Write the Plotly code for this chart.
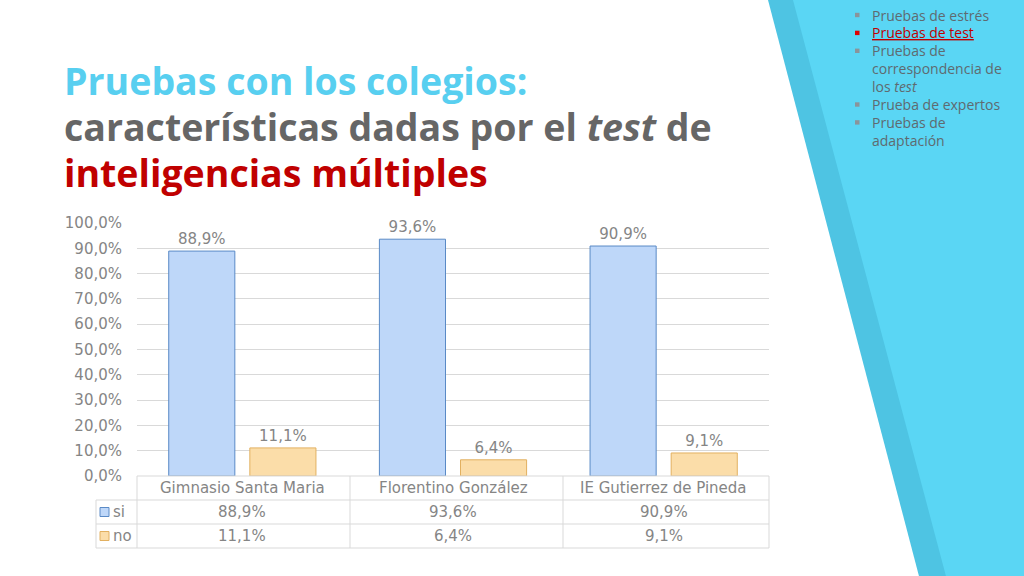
import plotly.graph_objects as go

# chart data
colegios = ["Gimnasio Santa Maria", "Florentino González", "IE Gutierrez de Pineda"]
si_vals = [0.889, 0.936, 0.909]
no_vals = [0.111, 0.064, 0.091]
series_names = ["si", "no"]
y_ticks = [0, 0.1, 0.2, 0.3, 0.4, 0.5, 0.6, 0.7, 0.8, 0.9, 1.0]

bullets = ["Pruebas de estrés", "Pruebas de test", "Pruebas de", "correspondencia de",
           "los <i>test</i>", "Prueba de expertos", "Pruebas de", "adaptación"]
bullet_marks = [True, True, True, False, False, True, True, False]

GRID = "#d9d9d9"
TXT = "#858585"
FONT = "DejaVu Sans"
SI_FILL, SI_LINE = "#bed7f9", "#5a8ac6"
NO_FILL, NO_LINE = "#fbdda9", "#e2b060"

# plot area in pixels
L, R, T, B = 137, 769, 223, 476


def px(x):
    return (x - L) / (R - L)


def py(y):
    return (B - y) / (B - T)


def pct(v):
    return f"{v * 100:.1f}".replace(".", ",") + "%"


fig = go.Figure()
fig.add_trace(go.Bar(x=colegios, y=si_vals, name=series_names[0],
                     marker=dict(color=SI_FILL, line=dict(color=SI_LINE, width=1)),
                     texttemplate="%{y:.1%}", textposition="outside",
                     textfont=dict(color=TXT, size=15, family=FONT),
                     cliponaxis=False))
fig.add_trace(go.Bar(x=colegios, y=no_vals, name=series_names[1],
                     marker=dict(color=NO_FILL, line=dict(color=NO_LINE, width=1)),
                     texttemplate="%{y:.1%}", textposition="outside",
                     textfont=dict(color=TXT, size=15, family=FONT),
                     cliponaxis=False))

shapes = []
# background decoration on the right
shapes.append(dict(type="path", xref="paper", yref="paper", layer="below",
                   path=f"M {px(768)} {py(0)} L {px(1030)} {py(0)} L {px(1030)} {py(580)} L {px(920)} {py(580)} Z",
                   fillcolor="#4ec4e3", line=dict(width=0)))
shapes.append(dict(type="path", xref="paper", yref="paper", layer="below",
                   path=f"M {px(793)} {py(0)} L {px(1030)} {py(0)} L {px(1030)} {py(580)} L {px(947)} {py(580)} Z",
                   fillcolor="#5ad6f4", line=dict(width=0)))

# data table lines
for y, x0 in [(476, 137), (500, 96), (524, 96), (548, 96)]:
    shapes.append(dict(type="line", xref="paper", yref="paper", x0=px(x0), x1=px(769),
                       y0=py(y), y1=py(y), line=dict(color=GRID, width=1)))
for x, y0 in [(96, 500), (137, 476), (350, 476), (563, 476), (769, 476)]:
    shapes.append(dict(type="line", xref="paper", yref="paper", x0=px(x), x1=px(x),
                       y0=py(y0), y1=py(548), line=dict(color=GRID, width=1)))
# legend keys
for yc, fill, line in [(512, SI_FILL, SI_LINE), (536, NO_FILL, NO_LINE)]:
    shapes.append(dict(type="rect", xref="paper", yref="paper", x0=px(100), x1=px(109),
                       y0=py(yc - 4.5), y1=py(yc + 4.5), fillcolor=fill, line=dict(color=line, width=1)))

ann = []
tfont = dict(family=FONT, size=15, color=TXT)
for c in colegios:
    ann.append(dict(x=c, xref="x", y=py(488), yref="paper", yanchor="middle",
                    text=c, showarrow=False, font=tfont))
for vals, yc, name in [(si_vals, 512, series_names[0]), (no_vals, 536, series_names[1])]:
    for c, v in zip(colegios, vals):
        ann.append(dict(x=c, xref="x", y=py(yc), yref="paper", yanchor="middle",
                        text=pct(v), showarrow=False, font=tfont))
    ann.append(dict(x=px(111), xref="paper", y=py(yc), yref="paper", yanchor="middle",
                    text=name, showarrow=False, xanchor="left", font=tfont))

# title
title_font = "Open Sans"
title_size = 37.5
ann.append(dict(x=px(62), xref="paper", y=py(81), yref="paper", xanchor="left", yanchor="middle",
                showarrow=False, text="<b>Pruebas con los colegios:</b>",
                font=dict(family=title_font, size=title_size, color="#58cff0")))
ann.append(dict(x=px(62), xref="paper", y=py(127), yref="paper", xanchor="left", yanchor="middle",
                showarrow=False, text="<b>características dadas por el <i>test</i> de</b>",
                font=dict(family=title_font, size=title_size, color="#666666")))
ann.append(dict(x=px(62), xref="paper", y=py(172), yref="paper", xanchor="left", yanchor="middle",
                showarrow=False, text="<b>inteligencias múltiples</b>",
                font=dict(family=title_font, size=title_size, color="#c00000")))

# bullet list top right
for i, (b, mark) in enumerate(zip(bullets, bullet_marks)):
    yc = 15 + i * 17.9
    red = (i == 1)
    col = "#c00000" if red else "#5f6a70"
    txt = f"<u>{b}</u>" if red else b
    ann.append(dict(x=px(870), xref="paper", y=py(yc), yref="paper", xanchor="left", yanchor="middle",
                    showarrow=False, text=txt, font=dict(family="Open Sans", size=14, color=col)))
    if mark:
        shapes.append(dict(type="rect", xref="paper", yref="paper", x0=px(855), x1=px(859.5),
                           y0=py(yc - 2.2), y1=py(yc + 2.2),
                           fillcolor="#e00000" if red else "#8a949a", line=dict(width=0)))

fig.update_layout(
    width=1024, height=576,
    margin=dict(l=L, r=1024 - R, t=T, b=576 - B),
    paper_bgcolor="white", plot_bgcolor="rgba(0,0,0,0)",
    separators=",.",
    barmode="group", bargap=0.23, bargroupgap=0.185,
    showlegend=False,
    shapes=shapes, annotations=ann,
    xaxis=dict(showticklabels=False, showgrid=False, zeroline=False, showline=False, ticks=""),
    yaxis=dict(range=[0, 1.0], tickvals=y_ticks, tickformat=".1%", showgrid=True, gridcolor=GRID,
               zeroline=False, showline=False, ticks="", ticklabelstandoff=14,
               tickfont=dict(family=FONT, size=15, color=TXT)),
)

fig.write_html("out.html", config={"displayModeBar": False},
               post_script="document.body.style.margin='0';")
